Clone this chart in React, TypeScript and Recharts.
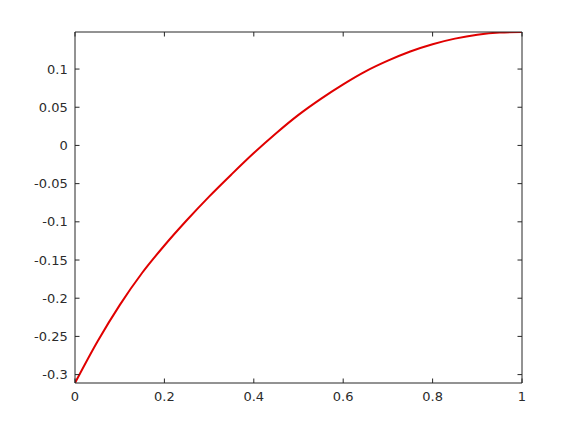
import React from 'react';
import { LineChart, Line, XAxis, YAxis } from 'recharts';

const xValues = [0, 0.05, 0.1, 0.15, 0.2, 0.25, 0.3, 0.35, 0.4, 0.45, 0.5, 0.55, 0.6, 0.65, 0.7, 0.75, 0.8, 0.85, 0.9, 0.95, 1];
const yValues = [-0.311, -0.257, -0.209, -0.167, -0.131, -0.098, -0.067, -0.038, -0.01, 0.016, 0.04, 0.061, 0.08, 0.097, 0.111, 0.123, 0.1325, 0.1398, 0.145, 0.1478, 0.1485];
const xTicks = [0, 0.2, 0.4, 0.6, 0.8, 1];
const yTicks = [-0.3, -0.25, -0.2, -0.15, -0.1, -0.05, 0, 0.05, 0.1];
const xDomain = [0, 1];
const yDomain = [-0.311, 0.1485];

const data = xValues.map((x, i) => ({ x, y: yValues[i] }));

const axisColor = '#262626';
const font = { fontFamily: 'DejaVu Sans', fontSize: 13, fill: '#2b2b2b' };
const fmt = (v: number) => String(v);
const blank = () => '';

export default function App() {
  return (
    <div style={{ position: 'absolute', left: 0, top: 0, width: 577, height: 433, background: '#fff' }}>
      <LineChart width={577} height={433} data={data} margin={{ top: 0, right: 0, bottom: 0, left: 0 }}>
        <XAxis
          xAxisId="b"
          dataKey="x"
          type="number"
          domain={xDomain}
          ticks={xTicks}
          orientation="bottom"
          height={50}
          tickSize={-4.5}
          tickMargin={13}
          tickFormatter={fmt}
          tick={font}
          stroke={axisColor}
          allowDataOverflow
        />
        <XAxis
          xAxisId="t"
          dataKey="x"
          type="number"
          domain={xDomain}
          ticks={xTicks}
          orientation="top"
          height={32}
          tickSize={-4.5}
          tickFormatter={blank}
          tick={font}
          stroke={axisColor}
          allowDataOverflow
        />
        <YAxis
          yAxisId="l"
          type="number"
          domain={yDomain}
          ticks={yTicks}
          orientation="left"
          width={75}
          tickSize={-4.5}
          tickMargin={11.8}
          tickFormatter={fmt}
          tick={font}
          stroke={axisColor}
          allowDataOverflow
        />
        <YAxis
          yAxisId="r"
          type="number"
          domain={yDomain}
          ticks={yTicks}
          orientation="right"
          width={55}
          tickSize={-4.5}
          tickFormatter={blank}
          tick={font}
          stroke={axisColor}
          allowDataOverflow
        />
        <Line
          xAxisId="b"
          yAxisId="l"
          dataKey="y"
          type="monotone"
          stroke="#e00000"
          strokeWidth={2}
          dot={false}
          isAnimationActive={false}
        />
      </LineChart>
    </div>
  );
}
